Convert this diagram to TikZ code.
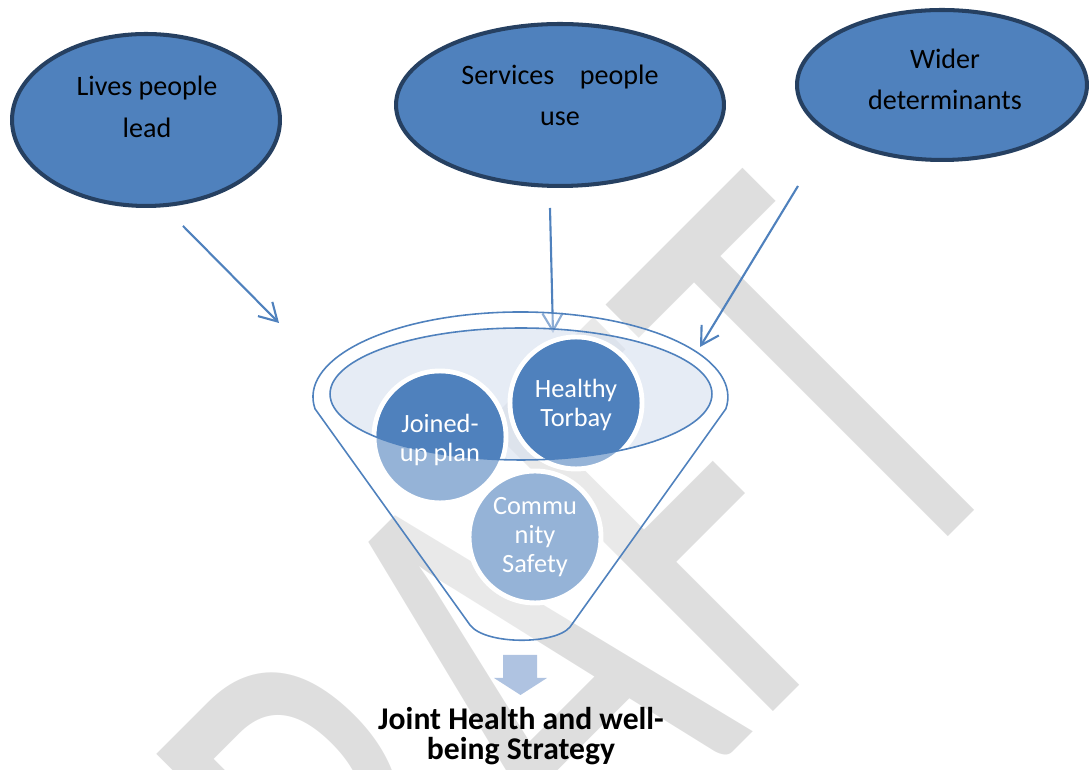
\documentclass[tikz,border=0pt]{standalone}
\usepackage{fontspec}
\usepackage{graphicx}
\setmainfont{Carlito}
\usetikzlibrary{shapes.geometric,arrows.meta}
\definecolor{accentblue}{RGB}{79,129,189}
\definecolor{navyline}{RGB}{38,64,97}
\definecolor{paleblue}{RGB}{149,179,215}
\definecolor{rimfill}{RGB}{214,223,238}
\definecolor{stemblue}{RGB}{175,195,225}
\definecolor{draftgray}{RGB}{222,222,222}

\begin{document}
\begin{tikzpicture}
	[x=0.02cm, y=0.02cm,
	topic/.style={ellipse, draw=navyline, line width=2.3pt, fill=accentblue, inner sep=0pt},
	topictext/.style={align=center, font=\fontsize{16}{23.5}\selectfont, text=black},
	bubble/.style={circle, draw=white, line width=2.8pt, fill=paleblue, minimum size=2.64cm, inner sep=0pt},
	bubbletext/.style={align=center, font=\fontsize{15}{16.5}\selectfont, text=white},
	feed/.style={draw=accentblue, line width=1.2pt, -{Straight Barb[length=10pt, width=11.5pt]}},
	funnelline/.style={draw=accentblue, line width=0.9pt}]
	\useasboundingbox (0,0) rectangle (1089,770);
	\clip (0,0) rectangle (1089,770);

	% watermark
	\node[anchor=base west, rotate=45, inner sep=0pt, text=draftgray] (draftmark) at (241,-474)
		{\scalebox{0.66}[1]{\fontsize{360}{360}\selectfont DRAFT}};

	% the three inputs
	\node[topic, minimum width=5.36cm, minimum height=3.44cm] (livespeoplelead) at (146,650) {};
	\node[topictext] (liveslabel) at (147,663) {Lives people\\lead};
	\node[topic, minimum width=6.56cm, minimum height=3.24cm] (servicespeopleuse) at (560,665) {};
	\node[topictext] (serviceslabel) at (560,675) {Services~~~ people\\use};
	\node[topic, minimum width=5.8cm, minimum height=3.0cm] (widerdeterminants) at (942,685) {};
	\node[topictext] (widerlabel) at (945,691) {Wider\\determinants};

	\coordinate (livesfrom) at (183,544);
	\coordinate (livesto) at (279,447);
	\coordinate (servicesfrom) at (550,562);
	\coordinate (servicesto) at (553,437);
	\coordinate (widerfrom) at (798,584);
	\coordinate (widerto) at (700,423);
	\draw[feed] (livesfrom) -- (livesto);
	\draw[feed] (servicesfrom) -- (servicesto);
	\draw[feed] (widerfrom) -- (widerto);

	% funnel
	\path[funnelline, fill=white, fill opacity=0.35] (470,145) -- (315,361.2)
		arc[start angle=188, end angle=-8, x radius=4.15cm, y radius=1.7cm]
		-- (570,143) .. controls (555,125) and (485,125) .. (470,145) -- cycle;
	\fill[rimfill, fill opacity=0.6] (521,376) ellipse[x radius=3.82cm, y radius=1.32cm];

	\node[bubble] (joinedupplan) at (440,333) {};
	\node[bubble] (healthytorbay) at (576,367) {};
	\node[bubble] (communitysafety) at (535,233) {};
	\begin{scope}
		\clip (521,376) ellipse[x radius=3.82cm, y radius=1.32cm];
		\fill[accentblue] (joinedupplan.center) circle[radius=1.27cm];
		\fill[accentblue] (healthytorbay.center) circle[radius=1.27cm];
	\end{scope}
	\draw[funnelline] (521,376) ellipse[x radius=3.82cm, y radius=1.32cm];

	\node[bubbletext] (joinedlabel) at ([yshift=-0.06cm]joinedupplan.center) {Joined-\\up plan};
	\node[bubbletext] (healthylabel) at ([yshift=-0.04cm]healthytorbay.center) {Healthy\\Torbay};
	\node[bubbletext] (communitylabel) at (communitysafety.center) {Commu\\nity\\Safety};

	% result
	\fill[stemblue] (503,115) -- (537,115) -- (537,92) -- (547,92) -- (520.5,75) -- (494,92) -- (503,92) -- cycle;
	\node[font=\bfseries\fontsize{18}{17.5}\selectfont, align=center] (strategy) at (521,34)
		{Joint Health and well-\\being Strategy};
\end{tikzpicture}
\end{document}
